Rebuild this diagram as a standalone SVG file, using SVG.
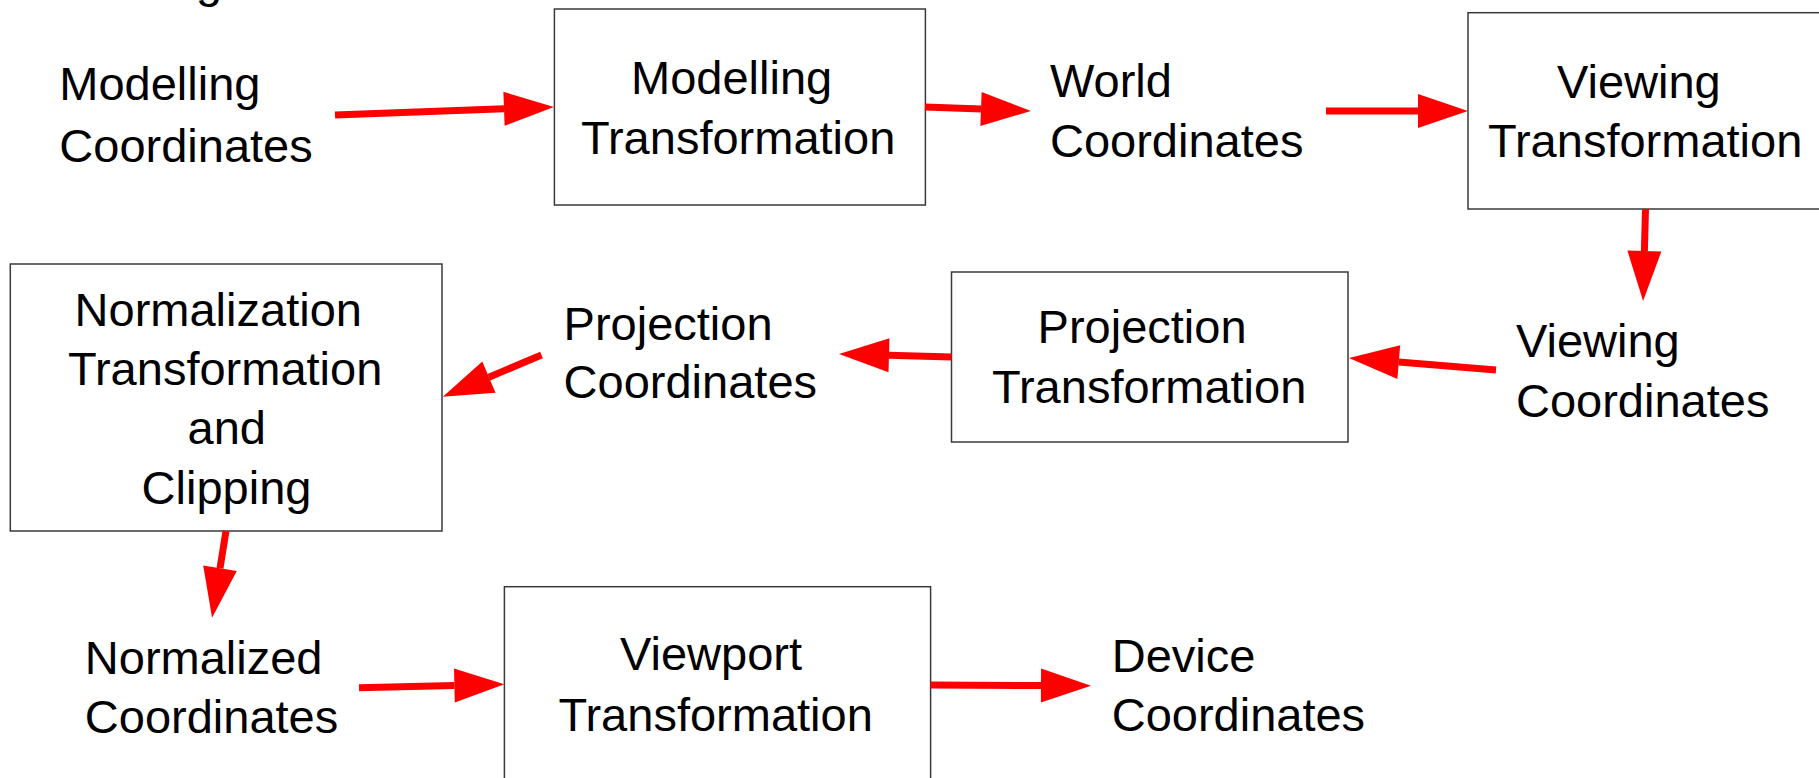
<svg xmlns="http://www.w3.org/2000/svg" width="1819" height="778" viewBox="0 0 1819 778">
<style>
.t{font-family:"Liberation Sans",Arial,sans-serif;font-size:47px;fill:#000}
.box{fill:#fff;stroke:#3a3a3a;stroke-width:1.5}
.arr{stroke:#ff0000;stroke-width:7;fill:none;marker-end:url(#head)}
</style>
<defs>
<marker id="head" markerUnits="userSpaceOnUse" markerWidth="50" markerHeight="34" refX="0" refY="17" orient="auto" overflow="visible">
<path d="M0,0 L50,17 L0,34 Z" fill="#ff0000"/>
</marker>
</defs>
<rect width="1819" height="778" fill="#fff"/>
<text class="t" x="196" y="-3">g</text>
<g id="modelling-coordinates"><text class="t" x="59.3" y="100">Modelling</text><text class="t" x="59.3" y="162">Coordinates</text></g>
<g id="modelling-transformation"><rect class="box" x="554.4" y="9" width="371" height="196"/><text class="t" x="631" y="94">Modelling</text><text class="t" x="581" y="154">Transformation</text></g>
<g id="world-coordinates"><text class="t" x="1050" y="97">World</text><text class="t" x="1050" y="157">Coordinates</text></g>
<g id="viewing-transformation"><rect class="box" x="1468" y="12.7" width="400" height="196.3"/><text class="t" x="1557" y="98">Viewing</text><text class="t" x="1488" y="157">Transformation</text></g>
<g id="viewing-coordinates"><text class="t" x="1516" y="357">Viewing</text><text class="t" x="1516" y="417">Coordinates</text></g>
<g id="projection-transformation"><rect class="box" x="951.5" y="272" width="396.5" height="170"/><text class="t" x="1037.6" y="343">Projection</text><text class="t" x="992" y="403">Transformation</text></g>
<g id="projection-coordinates"><text class="t" x="563.6" y="340">Projection</text><text class="t" x="563.6" y="398">Coordinates</text></g>
<g id="normalization-transformation"><rect class="box" x="10.3" y="264" width="431.7" height="267"/><text class="t" x="74.6" y="326">Normalization</text><text class="t" x="68" y="385">Transformation</text><text class="t" x="187.5" y="444">and</text><text class="t" x="141.6" y="504">Clipping</text></g>
<g id="normalized-coordinates"><text class="t" x="84.8" y="674">Normalized</text><text class="t" x="84.8" y="733">Coordinates</text></g>
<g id="viewport-transformation"><rect class="box" x="504.4" y="586.7" width="426.2" height="195"/><text class="t" x="620" y="670">Viewport</text><text class="t" x="558.5" y="730.7">Transformation</text></g>
<g id="device-coordinates"><text class="t" x="1111.7" y="671.7">Device</text><text class="t" x="1111.7" y="730.7">Coordinates</text></g>
<g id="connectors">
<line class="arr" x1="335" y1="115" x2="504" y2="108.8"/>
<line class="arr" x1="925" y1="107" x2="981" y2="109.1"/>
<line class="arr" x1="1326" y1="111" x2="1418" y2="111"/>
<line class="arr" x1="1645.5" y1="209" x2="1644.4" y2="251"/>
<line class="arr" x1="1496" y1="370" x2="1398.8" y2="362.1"/>
<line class="arr" x1="951.5" y1="357" x2="889" y2="355.3"/>
<line class="arr" x1="541.5" y1="355" x2="488.9" y2="377.2"/>
<line class="arr" x1="226" y1="531" x2="220" y2="568.3"/>
<line class="arr" x1="359" y1="687.7" x2="454.4" y2="685.5"/>
<line class="arr" x1="930.6" y1="685" x2="1041" y2="685.5"/>
</g>
</svg>
